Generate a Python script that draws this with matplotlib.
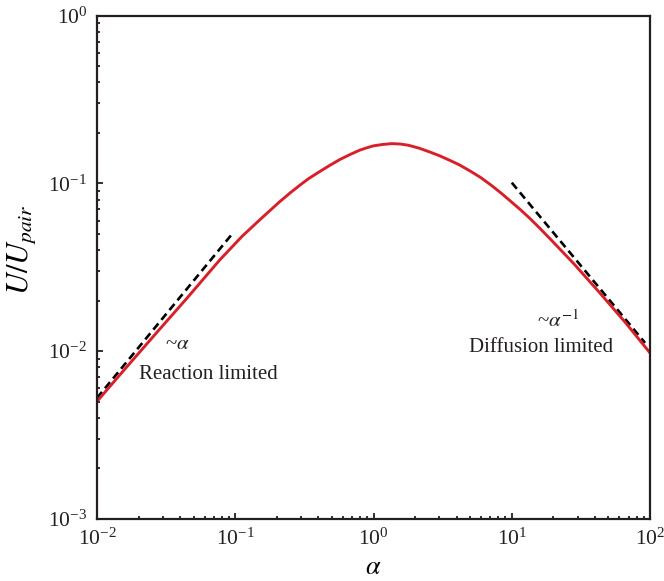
import matplotlib.pyplot as plt

plt.rcParams['font.family'] = ['Liberation Serif', 'DejaVu Serif']
plt.rcParams['mathtext.fontset'] = 'stix'

# значення кривої
alpha = [0.01, 0.0158, 0.027, 0.0447, 0.0776, 0.1122, 0.151, 0.209, 0.251, 0.294,
         0.339, 0.398, 0.479, 0.573, 0.676, 0.794, 0.891, 1.0, 1.161, 1.35,
         1.549, 1.78, 2.138, 2.56, 3.02, 3.55, 4.17, 4.99, 5.96, 7.08,
         8.32, 9.70, 11.48, 13.5, 15.85, 18.9, 28.2, 43.4, 66.1, 100]
U = [0.00501, 0.00776, 0.01288, 0.02065, 0.0351, 0.0484, 0.0608, 0.0776, 0.0881, 0.0977,
     0.1067, 0.1161, 0.1276, 0.139, 0.1486, 0.1578, 0.1629, 0.1675, 0.1706, 0.1726,
     0.1718, 0.169, 0.1622, 0.1538, 0.1459, 0.1374, 0.1291, 0.1186, 0.1084, 0.0977,
     0.0879, 0.0789, 0.0700, 0.0619, 0.0543, 0.0468, 0.0331, 0.0222, 0.01486, 0.00975]

# асимптоти ~alpha та ~alpha^-1
rl_x = [0.01, 0.097]
rl_y = [0.00525, 0.051]
dl_x = [10.0, 92.0]
dl_y = [0.101, 0.0112]

fig = plt.figure(figsize=(6.64, 5.81), dpi=100)
ax = fig.add_axes([0.146, 0.107, 0.833, 0.866])

ax.plot(rl_x, rl_y, color='black', lw=1.9, ls=(0, (3.0, 1.8)))
ax.plot(dl_x, dl_y, color='black', lw=1.9, ls=(0, (3.0, 1.8)))
ax.plot(alpha, U, color='#d7202a', lw=2.1, solid_joinstyle='round')

ax.set_xscale('log')
ax.set_yscale('log')
ax.set_xlim(1e-2, 1e2)
ax.set_ylim(1e-3, 1e0)

ax.tick_params(which='both', direction='in', top=False, right=False,
               labelsize=15.5, width=1.3, colors='#231f20', pad=7)
ax.tick_params(which='major', length=4)
ax.tick_params(which='minor', length=2.5)
for s in ax.spines.values():
    s.set_linewidth(1.6)
    s.set_color('#231f20')

ax.set_xlabel(r'$\alpha$', fontsize=19, labelpad=5)
ax.set_ylabel(r'$U/U_{pair}$', fontsize=22)
ax.yaxis.set_label_coords(-0.107, 0.535)

ax.text(0.038, 0.0109, r'~$\alpha$', fontsize=15, ha='center', va='center', color='#231f20')
ax.text(0.0635, 0.00723, 'Reaction limited', fontsize=15, ha='center', va='center', color='#231f20')
ax.text(21.6, 0.0150, r'~$\alpha^{-1}$', fontsize=15, ha='center', va='center', color='#231f20')
ax.text(16.3, 0.01047, 'Diffusion limited', fontsize=15, ha='center', va='center', color='#231f20')

plt.savefig('out.png', dpi=100)
